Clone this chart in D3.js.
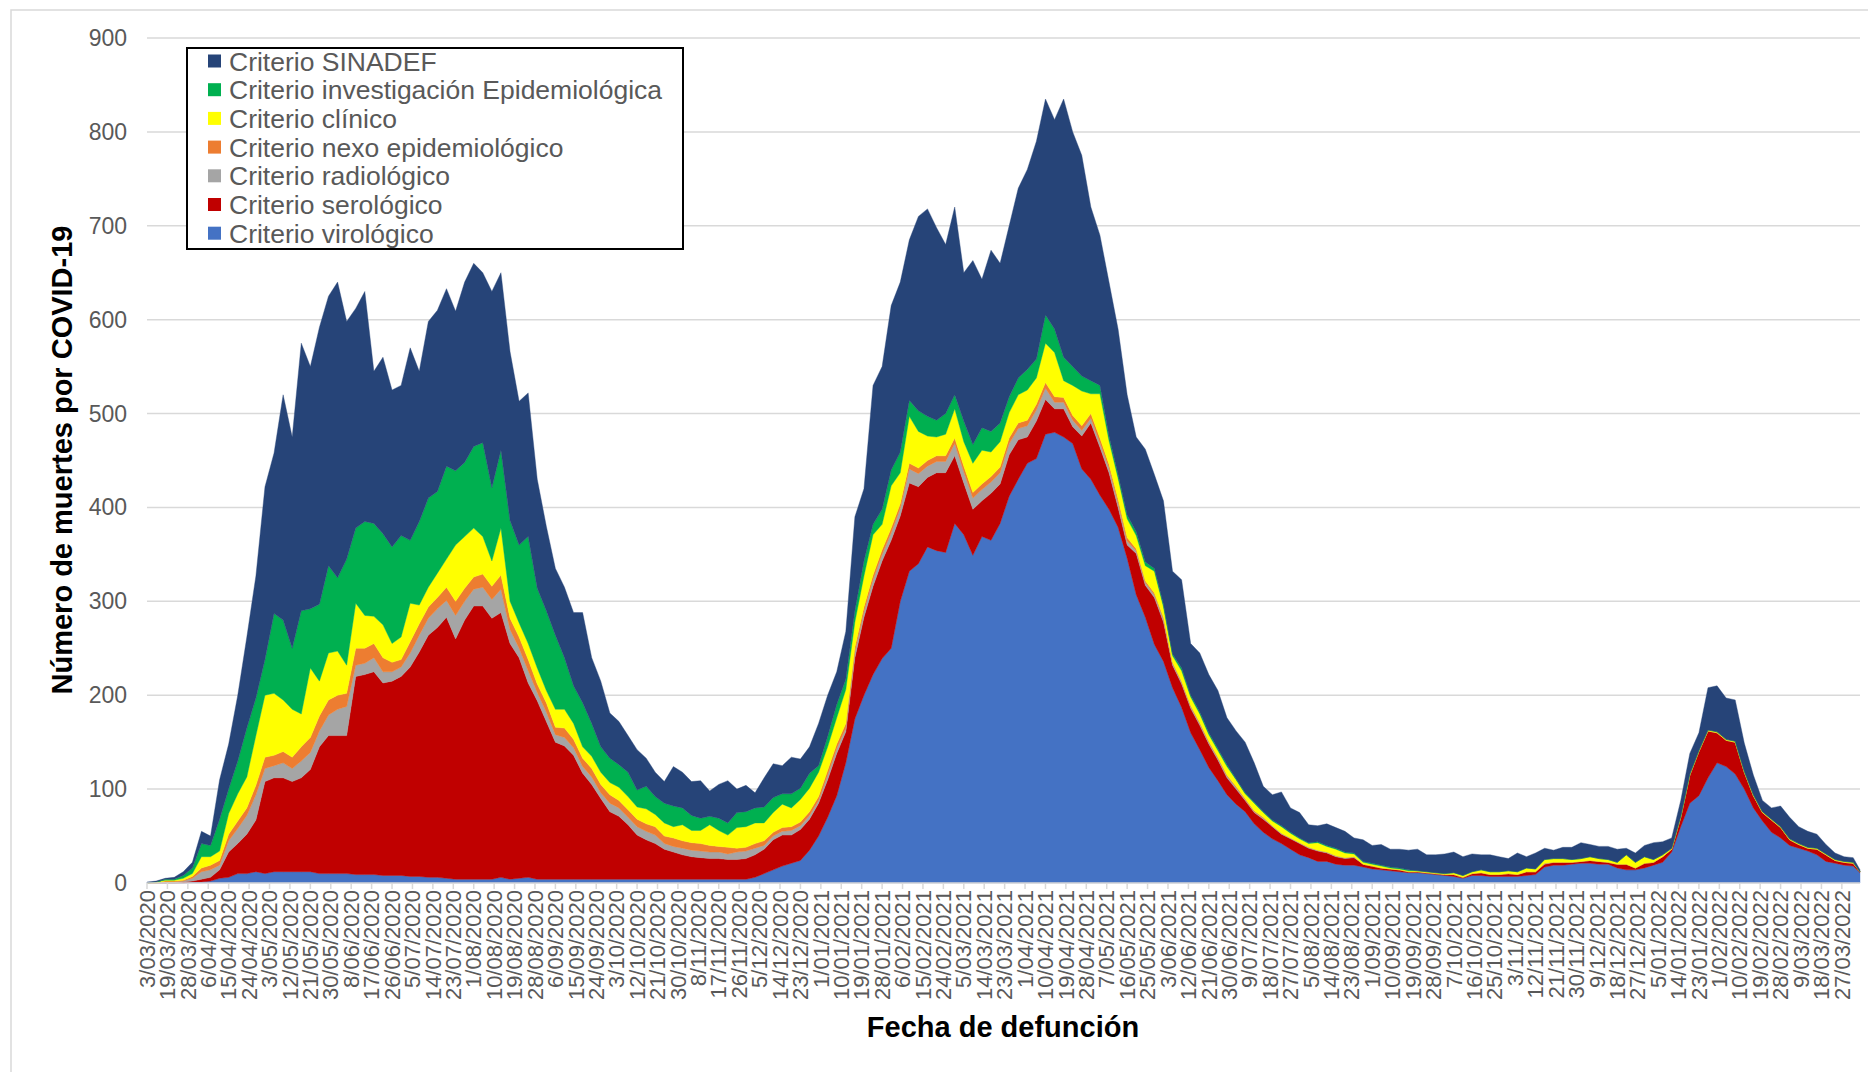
<!DOCTYPE html>
<html>
<head>
<meta charset="utf-8">
<script src="https://cdn.jsdelivr.net/npm/d3@7"></script>
<style>
  body { margin: 0; background: #fff; }
  svg text { font-family: "Liberation Sans", Arial, sans-serif; }
</style>
</head>
<body>
<svg id="chart" width="1868" height="1072"></svg>
<script>
// **** Data ****
// category positions (day number on the category axis) where values were read
var sampleIdx = d3.range(0, 753, 4).concat([755]);

var virologico = [0,0,0,0,0,1,1,2,5,6,10,10,12,10,12,12,12,12,12,10,10,10,10,9,9,9,8,8,8,7,7,6,6,5,
  4,4,4,4,4,6,4,5,6,4,4,4,4,4,4,4,4,4,4,4,4,4,4,4,4,4,4,4,4,4,4,
  4,4,6,10,14,18,21,24,35,50,70,93,128,175,200,222,239,250,300,332,340,358,354,352,383,371,349,369,365,383,412,430,447,452,478,
  480,475,468,441,430,413,398,379,346,
  307,283,254,236,208,187,160,142,123,109,94,84,76,63,54,47,42,36,30,27,23,23,20,19,
  19,17,15,14,13,12,11,11,10,9,8,7,5,8,8,7,7,7,7,8,9,17,19,19,20,21,21,20,20,
  16,14,14,16,19,22,33,60,85,93,112,128,124,116,100,80,66,54,48,40,37,34,30,23,21,19,18,11];

var serologico = [0,0,0,0,1,1,3,4,9,27,32,42,55,98,100,100,96,100,109,135,147,147,147,211,213,216,205,207,212,223,239,258,266,278,
  256,276,291,291,278,282,251,235,207,190,168,146,142,132,113,101,86,72,67,58,47,42,38,32,29,26,24,23,22,22,21,
  21,22,24,26,32,33,30,33,33,35,40,45,33,65,83,94,104,115,91,94,82,74,83,85,72,55,49,38,50,42,44,42,28,40,37,
  25,30,18,35,60,51,39,21,14,
  44,34,50,42,24,25,26,26,25,22,18,16,12,12,14,13,10,11,12,10,11,9,8,7,
  8,3,3,2,2,2,1,1,1,1,1,2,1,2,3,2,2,3,2,4,3,3,3,3,2,2,3,3,2,
  4,6,2,5,3,6,3,10,30,47,50,32,28,34,18,13,9,13,11,6,4,3,6,7,3,3,3,1];

var radiologico = [0,0,1,1,1,3,8,8,5,12,16,20,27,14,13,16,14,18,18,17,22,28,31,12,12,15,12,10,10,15,18,18,20,18,
  25,20,18,20,20,25,15,10,13,9,10,8,9,8,7,8,6,9,9,8,9,9,9,6,6,7,7,7,7,7,6,
  8,8,7,4,4,4,5,4,4,3,5,5,4,6,6,7,7,8,8,15,14,12,12,12,13,12,12,12,12,12,12,12,12,12,12,
  7,7,7,6,5,5,5,5,4,
  3,3,3,3,2,2,2,2,2,2,2,2,1,1,1,1,1,1,1,1,1,1,1,1,
  1,0,0,0,0,0,0,0,0,0,0,0,0,0,0,0,0,0,0,0,0,1,0,0,0,0,0,0,0,
  0,0,0,0,0,0,0,0,0,0,0,0,0,0,0,0,0,0,0,0,0,0,0,0,0,0,0,0];

var nexo = [0,0,1,1,1,2,4,5,5,7,8,8,10,12,11,12,12,15,16,16,16,15,14,18,16,15,15,10,8,12,12,12,12,14,
  15,14,13,14,14,15,12,12,12,9,10,8,10,9,9,9,9,9,8,8,8,8,9,8,9,8,8,8,7,6,7,
  4,4,5,5,4,4,4,4,4,4,5,5,5,5,5,5,5,5,5,6,6,6,6,6,6,6,6,6,6,6,6,6,6,6,6,
  6,5,5,5,5,5,4,4,4,
  2,2,2,2,1,1,1,1,1,1,1,1,1,1,1,0,0,0,0,0,0,0,0,0,
  0,0,0,0,0,0,0,0,0,0,0,0,0,0,0,0,0,0,0,0,0,0,0,0,0,0,0,0,0,
  0,0,0,0,0,0,0,0,0,0,0,0,0,0,0,0,0,0,0,0,0,0,0,0,0,0,0,0];

var clinico = [0,1,1,1,2,3,12,9,10,22,29,33,53,66,66,55,51,35,74,37,50,47,30,48,35,29,35,20,24,41,20,21,26,30,
  60,55,52,40,27,50,18,15,17,17,13,19,20,17,12,13,13,13,14,14,13,16,13,14,12,17,13,14,22,17,13,
  22,22,22,19,21,25,20,24,25,26,25,28,36,27,33,43,27,45,33,50,39,26,20,23,31,26,31,36,26,27,27,30,32,28,42,
  47,18,32,37,21,47,25,22,20,
  14,16,23,11,7,11,9,9,7,7,9,7,5,8,5,5,7,5,4,4,8,6,7,5,
  3,2,2,2,1,1,1,1,1,1,1,2,2,2,3,3,3,3,3,4,3,4,4,4,3,3,4,3,3,
  2,10,6,7,3,2,1,1,1,1,1,1,1,1,1,1,1,1,1,1,1,1,1,1,1,1,1,0];

var investigacion = [0,0,1,1,3,6,14,12,34,26,35,52,40,38,85,85,65,110,63,82,93,78,113,80,100,99,97,103,108,67,89,95,87,99,
  79,79,87,100,78,83,86,83,114,85,85,79,55,40,47,35,27,26,24,26,18,24,19,21,22,18,16,13,9,13,13,
  16,16,16,17,16,11,15,12,16,7,11,14,11,12,16,11,16,17,22,17,22,21,18,22,15,22,20,24,22,20,17,18,22,20,30,
  25,25,20,16,14,9,5,4,4,
  4,4,3,3,2,3,2,2,2,2,2,1,1,1,1,1,1,1,1,1,1,1,1,1,
  1,1,1,1,1,1,1,0,0,0,0,0,0,0,0,0,0,0,0,0,0,0,0,0,0,0,0,0,0,
  0,0,0,0,0,0,0,0,0,0,0,0,0,0,0,0,0,0,0,0,0,0,0,0,0,0,0,0];

var sinadef = [1,1,1,2,4,6,13,10,42,48,70,97,130,184,171,240,225,285,258,295,287,315,253,234,245,162,188,167,160,205,160,188,193,189,
  170,192,195,181,209,189,180,153,153,116,90,71,75,78,96,70,70,48,46,39,43,30,26,23,42,38,36,40,27,36,45,
  25,28,16,31,36,30,39,31,28,45,44,35,51,100,77,148,152,175,181,171,207,221,205,180,200,158,196,158,193,170,182,202,213,232,230,
  223,275,250,235,185,160,164,155,128,
  101,120,100,110,88,94,55,63,62,62,50,51,54,42,27,27,36,26,27,19,17,23,22,22,
  16,23,19,22,19,20,21,23,18,19,21,22,20,19,16,18,16,13,20,12,17,12,9,12,13,17,13,13,14,
  14,7,10,12,18,14,11,17,22,19,45,49,44,44,30,21,12,12,22,23,18,17,15,10,7,5,5,2];

var tickLabels = ["3/03/2020","19/03/2020","28/03/2020","6/04/2020","15/04/2020","24/04/2020","3/05/2020","12/05/2020",
  "21/05/2020","30/05/2020","8/06/2020","17/06/2020","26/06/2020","5/07/2020","14/07/2020","23/07/2020","1/08/2020",
  "10/08/2020","19/08/2020","28/08/2020","6/09/2020","15/09/2020","24/09/2020","3/10/2020","12/10/2020","21/10/2020",
  "30/10/2020","8/11/2020","17/11/2020","26/11/2020","5/12/2020","14/12/2020","23/12/2020","1/01/2021","10/01/2021",
  "19/01/2021","28/01/2021","6/02/2021","15/02/2021","24/02/2021","5/03/2021","14/03/2021","23/03/2021","1/04/2021",
  "10/04/2021","19/04/2021","28/04/2021","7/05/2021","16/05/2021","25/05/2021","3/06/2021","12/06/2021","21/06/2021",
  "30/06/2021","9/07/2021","18/07/2021","27/07/2021","5/08/2021","14/08/2021","23/08/2021","1/09/2021","10/09/2021",
  "19/09/2021","28/09/2021","7/10/2021","16/10/2021","25/10/2021","3/11/2021","12/11/2021","21/11/2021","30/11/2021",
  "9/12/2021","18/12/2021","27/12/2021","5/01/2022","14/01/2022","23/01/2022","1/02/2022","10/02/2022","19/02/2022",
  "28/02/2022","9/03/2022","18/03/2022","27/03/2022"];
var tickStep = 9;
var lastCategory = 755;

var yTicks = [0,100,200,300,400,500,600,700,800,900];

// stacking order, bottom to top
var keys = ["vir","sero","radio","nexo","clin","inv","sin"];
var seriesNames = {
  vir: "Criterio virológico", sero: "Criterio serológico", radio: "Criterio radiológico",
  nexo: "Criterio nexo epidemiológico", clin: "Criterio clínico",
  inv: "Criterio investigación Epidemiológica", sin: "Criterio SINADEF"
};
var seriesColors = {
  vir: "#4472c4", sero: "#c00000", radio: "#a5a5a5", nexo: "#ed7d31",
  clin: "#ffff00", inv: "#00b050", sin: "#264478"
};

var rows = sampleIdx.map(function(ix, j) {
  return { ix: ix, vir: virologico[j], sero: serologico[j], radio: radiologico[j],
           nexo: nexo[j], clin: clinico[j], inv: investigacion[j], sin: sinadef[j] };
});

// **** Scales ****
var xScale = d3.scaleLinear().domain([0, lastCategory]).range([147, 1860]);
var yScale = d3.scaleLinear().domain([0, 900]).range([883, 38]);

var svg = d3.select("#chart");

svg.append("rect").attr("width", 1868).attr("height", 1072).attr("fill", "#fff");
// chart frame (only top/left edges are inside the picture)
svg.append("path").attr("d", "M11,1072V10H1868").attr("fill", "none")
   .attr("stroke", "#d9d9d9").attr("stroke-width", 1.5);

// gridlines
svg.append("g").selectAll("line")
  .data(yTicks.filter(function(d) { return d > 0; }))
  .enter().append("line")
    .attr("x1", 147).attr("x2", 1860)
    .attr("y1", function(d) { return yScale(d); })
    .attr("y2", function(d) { return yScale(d); })
    .attr("stroke", "#d9d9d9").attr("stroke-width", 1.5);

// **** Stacked areas ****
var stacked = d3.stack().keys(keys)(rows);
var area = d3.area()
  .x(function(d) { return xScale(d.data.ix); })
  .y0(function(d) { return yScale(d[0]); })
  .y1(function(d) { return yScale(d[1]); });

svg.append("g").selectAll("path")
  .data(stacked)
  .enter().append("path")
    .attr("d", area)
    .attr("fill", function(d) { return seriesColors[d.key]; })
    .attr("stroke", function(d) { return seriesColors[d.key]; })
    .attr("stroke-width", 0.4);

// **** Axes ****
svg.append("line").attr("x1", 147).attr("x2", 1860)
   .attr("y1", yScale(0)).attr("y2", yScale(0))
   .attr("stroke", "#d9d9d9").attr("stroke-width", 1.5);

var tickIdx = tickLabels.map(function(d, i) { return i * tickStep; });

svg.append("g").selectAll("line")
  .data(tickIdx)
  .enter().append("line")
    .attr("x1", function(d) { return xScale(d); })
    .attr("x2", function(d) { return xScale(d); })
    .attr("y1", yScale(0)).attr("y2", yScale(0) + 6)
    .attr("stroke", "#d9d9d9").attr("stroke-width", 1.5);

svg.append("g").selectAll("text")
  .data(tickLabels)
  .enter().append("text")
    .attr("transform", function(d, i) {
      return "translate(" + xScale(i * tickStep) + "," + (yScale(0) + 7) + ") rotate(-90)";
    })
    .attr("dy", "0.35em")
    .attr("text-anchor", "end")
    .attr("font-size", 22)
    .attr("fill", "#595959")
    .text(function(d) { return d; });

svg.append("g").selectAll("text")
  .data(yTicks)
  .enter().append("text")
    .attr("x", 127)
    .attr("y", function(d) { return yScale(d); })
    .attr("dy", "0.35em")
    .attr("text-anchor", "end")
    .attr("font-size", 23)
    .attr("fill", "#595959")
    .text(function(d) { return d; });

svg.append("text")
  .attr("transform", "translate(62,460) rotate(-90)")
  .attr("dy", "0.35em")
  .attr("text-anchor", "middle")
  .attr("font-size", 29)
  .attr("font-weight", "bold")
  .attr("fill", "#000")
  .text("Número de muertes por COVID-19");

svg.append("text")
  .attr("x", 1003).attr("y", 1027)
  .attr("dy", "0.35em")
  .attr("text-anchor", "middle")
  .attr("font-size", 29)
  .attr("font-weight", "bold")
  .attr("fill", "#000")
  .text("Fecha de defunción");

// **** Legend ****
var legend = svg.append("g");
legend.append("rect")
  .attr("x", 187).attr("y", 48).attr("width", 496).attr("height", 201)
  .attr("fill", "#fff").attr("stroke", "#000").attr("stroke-width", 2);

var legendKeys = keys.slice().reverse();
var entries = legend.selectAll("g.entry")
  .data(legendKeys)
  .enter().append("g")
    .attr("class", "entry")
    .attr("transform", function(d, i) { return "translate(0," + (61 + i * 28.7) + ")"; });

entries.append("rect")
  .attr("x", 208).attr("y", -6.5).attr("width", 13).attr("height", 13)
  .attr("fill", function(d) { return seriesColors[d]; });

entries.append("text")
  .attr("x", 229).attr("dy", "0.36em")
  .attr("font-size", 26.5)
  .attr("fill", "#595959")
  .text(function(d) { return seriesNames[d]; });
</script>
</body>
</html>
